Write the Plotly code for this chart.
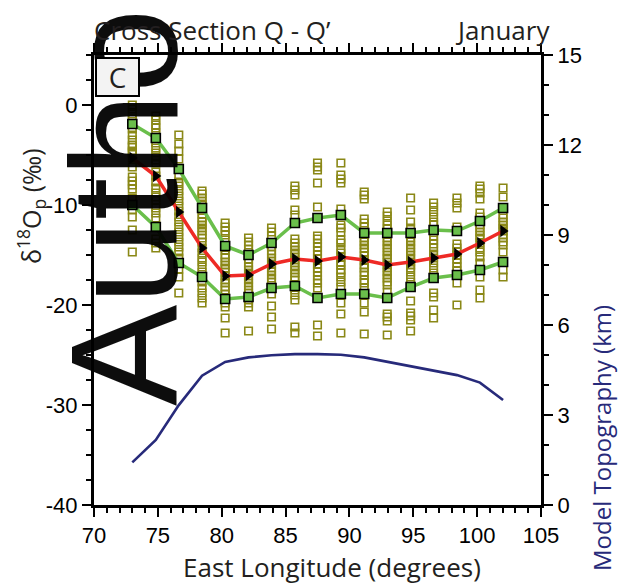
import plotly.graph_objects as go

# Longitudes of the cross-section grid columns (degrees east)
lon = [73.0, 74.84, 76.64, 78.46, 80.27, 82.1, 83.9, 85.73, 87.5,
       89.33, 91.16, 92.96, 94.79, 96.59, 98.42, 100.22, 102.03]

# Ensemble members of precipitation d18O (permil) at each longitude
iso_073 = [0.0, -0.4, -0.9, -1.4, -1.9, -2.4, -3.0, -3.5, -4.0, -4.2, -4.6, -4.8, -5.3,
           -6.2, -7.2, -7.6, -8.0, -8.4, -9.3, -10.0, -10.5, -11.2, -12.5, -14.7]
iso_075 = [-1.1, -1.5, -2.0, -2.3, -2.8, -3.3, -3.8, -4.3, -4.8, -5.2, -5.5, -5.8, -6.7,
           -7.1, -7.7, -8.3, -8.8, -9.2, -9.5, -10.3, -10.8, -11.3, -12.2, -13.4, -13.8, -14.3]
iso_077 = [-3.0, -3.9, -4.6, -5.4, -6.4, -7.1, -7.7, -8.1, -8.6, -9.1, -9.6, -10.1, -10.6,
           -11.2, -11.7, -12.2, -12.7, -13.2, -13.7, -14.2, -14.7, -15.3, -15.8, -16.4, -17.2, -18.8]
iso_078 = [-8.6, -8.9, -9.3, -9.6, -9.9, -10.4, -10.9, -11.3, -11.7, -12.0, -12.3, -12.6, -13.0,
           -13.3, -13.7, -14.3, -14.8, -15.3, -15.7, -16.2, -16.7, -17.2, -17.7, -18.3, -18.8,
           -19.3, -19.8]
iso_080 = [-11.8, -12.2, -12.6, -13.0, -13.5, -14.1, -14.5, -15.0, -15.3, -15.7, -16.0, -16.3,
           -16.7, -17.1, -17.5, -17.8, -18.2, -18.5, -18.9, -19.4, -19.8, -20.2, -21.3, -22.8]
iso_082 = [-13.3, -13.7, -14.0, -14.4, -15.0, -15.4, -15.8, -16.2, -16.5, -16.8, -17.1, -17.5,
           -17.8, -18.1, -18.5, -18.8, -19.2, -19.5, -19.8, -20.2, -22.6]
iso_084 = [-12.3, -12.7, -13.1, -13.8, -14.2, -14.6, -14.9, -15.3, -15.6, -15.9, -16.3, -16.7,
           -17.0, -17.3, -17.7, -18.3, -18.9, -20.1, -21.2, -22.4]
iso_086 = [-8.1, -8.5, -9.0, -10.5, -11.0, -11.8, -13.4, -13.8, -14.2, -14.5, -14.8, -15.2,
           -15.5, -15.8, -16.2, -16.5, -16.8, -17.2, -17.5, -18.1, -18.5, -19.0, -19.5, -22.2, -22.8]
iso_088 = [-5.8, -6.2, -6.5, -7.8, -10.2, -11.3, -13.1, -13.4, -13.8, -14.2, -14.6, -15.0,
           -15.4, -15.9, -16.3, -16.7, -17.1, -17.5, -17.8, -18.3, -19.3, -22.0, -23.1]
iso_089 = [-5.8, -7.0, -7.4, -7.8, -10.4, -11.0, -12.0, -12.3, -12.7, -13.5, -13.8, -14.4,
           -14.8, -15.2, -15.7, -16.0, -16.5, -16.8, -17.2, -17.7, -18.2, -18.9, -19.8, -20.9, -22.8]
iso_091 = [-8.7, -9.0, -9.4, -11.4, -11.8, -12.2, -12.8, -13.3, -13.7, -14.0, -14.3, -14.7,
           -15.1, -15.5, -16.0, -16.3, -16.7, -17.0, -17.5, -17.8, -18.3, -18.9, -19.8, -20.7, -22.9]
iso_093 = [-10.7, -11.1, -11.6, -12.0, -12.4, -12.8, -13.3, -13.7, -14.0, -14.3, -14.7, -15.0,
           -15.3, -15.7, -16.0, -16.3, -16.7, -17.0, -17.3, -17.7, -18.0, -18.7, -19.3, -20.9,
           -21.2, -21.6, -23.0]
iso_095 = [-9.3, -10.5, -11.7, -12.3, -12.8, -13.3, -13.7, -14.0, -14.3, -14.7, -15.0, -15.3,
           -15.7, -16.0, -16.3, -16.7, -17.2, -17.7, -18.2, -19.6, -20.8, -21.1, -21.5, -22.6]
iso_097 = [-9.8, -10.2, -10.7, -11.2, -11.7, -12.0, -12.5, -13.1, -13.5, -13.9, -14.3, -14.9,
           -15.3, -15.8, -16.3, -16.8, -17.3, -18.8, -19.2, -20.5, -21.3]
iso_098 = [-9.3, -9.8, -10.3, -12.2, -12.6, -13.9, -14.3, -14.7, -15.0, -15.4, -15.8, -16.2,
           -16.6, -17.0, -17.8, -20.0]
iso_100 = [-8.1, -8.4, -8.8, -9.4, -10.8, -11.2, -11.6, -12.0, -12.3, -12.7, -13.0, -13.3,
           -13.8, -14.3, -14.7, -15.2, -15.8, -16.5, -17.2, -18.5, -19.3]
iso_102 = [-8.3, -9.2, -10.3, -11.0, -11.3, -11.7, -12.0, -12.3, -12.6, -13.0, -13.3, -13.7,
           -14.0, -14.7, -15.7, -16.5, -17.2]

members = [iso_073, iso_075, iso_077, iso_078, iso_080, iso_082, iso_084, iso_086, iso_088,
           iso_089, iso_091, iso_093, iso_095, iso_097, iso_098, iso_100, iso_102]

# Ensemble mean and spread envelope (permil)
iso_mean = [-5.3, -7.1, -10.7, -14.3, -17.1, -17.0, -15.9, -15.4, -15.6,
            -15.2, -15.5, -16.0, -15.7, -15.3, -14.9, -13.8, -12.6]
iso_upper = [-1.9, -3.3, -6.4, -10.3, -14.1, -15.0, -13.8, -11.8, -11.3,
             -11.0, -12.8, -12.8, -12.8, -12.5, -12.6, -11.6, -10.3]
iso_lower = [-10.0, -12.2, -15.8, -17.2, -19.4, -19.2, -18.3, -18.1, -19.3,
             -18.9, -18.9, -19.3, -18.2, -17.3, -17.0, -16.5, -15.7]

# Model surface elevation along the section (km)
topo_km = [1.42, 2.17, 3.33, 4.31, 4.77, 4.92, 4.99, 5.03, 5.03,
           5.01, 4.92, 4.77, 4.61, 4.48, 4.33, 4.08, 3.5]

# Axis tick values and labels
x_ticks = [70, 75, 80, 85, 90, 95, 100, 105]
y_ticks = [-40, -30, -20, -10, 0]
y_tick_text = ["-40", "-30", "-20", "-10", "0"]
topo_ticks = [0, 3, 6, 9, 12, 15]

OLIVE = "#8a8816"
GREEN = "#6abf4b"
RED = "#ee2a25"
NAVY = "#272a7a"
TEXT = "#231f20"
TICK_FONT = dict(family="Liberation Sans Narrow, Arial Narrow, Liberation Sans, Arial",
                 size=22, color="black")
TITLE_FAMILY = "Open Sans, Noto Sans, sans-serif"

fig = go.Figure()

# all ensemble members as hollow squares
xs, ys = [], []
for x, vals in zip(lon, members):
    xs += [x] * len(vals)
    ys += vals
fig.add_trace(go.Scatter(
    x=xs, y=ys, mode="markers",
    marker=dict(symbol="square-open", size=7.5, color=OLIVE, line=dict(width=1.6, color=OLIVE)),
    showlegend=False, hoverinfo="skip"))

# spread envelope
for band in (iso_upper, iso_lower):
    fig.add_trace(go.Scatter(x=lon, y=band, mode="lines",
                             line=dict(color=GREEN, width=3.5), showlegend=False))
# ensemble mean
fig.add_trace(go.Scatter(x=lon, y=iso_mean, mode="lines",
                         line=dict(color=RED, width=3.5), showlegend=False))
for band in (iso_upper, iso_lower):
    fig.add_trace(go.Scatter(
        x=lon, y=band, mode="markers",
        marker=dict(symbol="square", size=9, color=GREEN, line=dict(width=1.6, color="black")),
        showlegend=False))
fig.add_trace(go.Scatter(
    x=lon, y=iso_mean, mode="markers",
    marker=dict(symbol="triangle-right", size=11, color="black", line=dict(width=0)),
    showlegend=False))

# topography on the secondary axis
fig.add_trace(go.Scatter(x=lon, y=topo_km, mode="lines", yaxis="y2",
                         line=dict(color=NAVY, width=2.6), showlegend=False))

axis_common = dict(showgrid=False, zeroline=False, showline=True, linecolor="black",
                   linewidth=3, ticks="outside", ticklen=9, tickwidth=2, tickcolor="black",
                   tickfont=TICK_FONT)
minor_common = dict(ticklen=5, tickwidth=1.5, tickcolor="black", ticks="outside")

fig.update_layout(
    width=619, height=585, autosize=False,
    margin=dict(l=94, r=78, t=55, b=80),
    paper_bgcolor="white", plot_bgcolor="white",
    xaxis=dict(range=[70, 105], tickmode="array", tickvals=x_ticks, mirror="ticks",
               minor=dict(tick0=70, dtick=1, **minor_common), **axis_common),
    yaxis=dict(range=[-40, 5], tickmode="array", tickvals=y_ticks, ticktext=y_tick_text,
               minor=dict(tick0=0, dtick=2.5, **minor_common), **axis_common),
    yaxis2=dict(range=[0, 15], tickmode="array", tickvals=topo_ticks, overlaying="y",
                side="right", minor=dict(tick0=0, dtick=1, **minor_common), **axis_common),
)

def px_x(p):
    return (p - 94) / 447

def px_y(p):
    return (505 - p) / 450

annotations = [
    dict(text="Author", x=px_x(211), y=px_y(408), xanchor="right", yanchor="bottom",
         textangle=-90, font=dict(family="Liberation Sans, Arial", size=152,
                                  color="rgba(0,0,0,0.95)")),
    dict(text="Cross Section Q - Q\u2019", x=px_x(92), y=px_y(30), xanchor="left",
         yanchor="middle", font=dict(family=TITLE_FAMILY, size=26, color=TEXT)),
    dict(text="January", x=px_x(552), y=px_y(30), xanchor="right", yanchor="middle",
         font=dict(family=TITLE_FAMILY, size=26, color=TEXT)),
    dict(text="East Longitude (degrees)", x=px_x(332), y=px_y(567), xanchor="center",
         yanchor="middle", font=dict(family=TITLE_FAMILY, size=26, color=TEXT)),
    dict(text="\u03b4<sup>18</sup>O<sub>p</sub> (\u2030)", x=px_x(31), y=px_y(206),
         xanchor="center", yanchor="middle", textangle=-90,
         font=dict(family=TITLE_FAMILY, size=25, color=TEXT)),
    dict(text="Model Topography (km)", x=px_x(601), y=px_y(438), xanchor="center",
         yanchor="middle", textangle=-90, font=dict(family=TITLE_FAMILY, size=24, color=NAVY)),
    # panel letter, boxed, sits above the watermark
    dict(text="C", x=px_x(117.5), y=px_y(76.5), xanchor="center", yanchor="middle",
         width=41, height=36, bgcolor="#f3f3f3", bordercolor="black", borderwidth=2,
         borderpad=0, font=dict(family=TITLE_FAMILY, size=28, color=TEXT)),
]
for a in annotations:
    a.update(xref="paper", yref="paper", showarrow=False)
fig.update_layout(annotations=annotations)

fig.write_html("out.html")
